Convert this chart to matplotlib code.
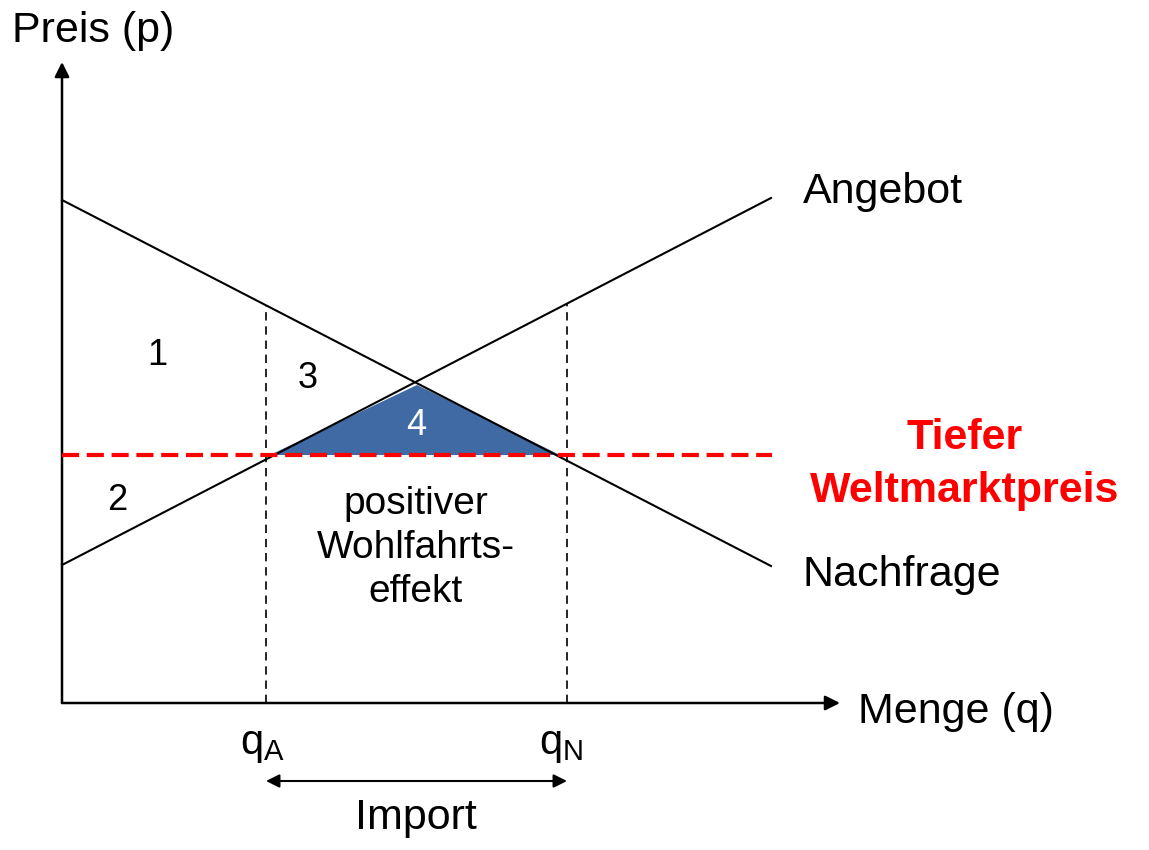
import matplotlib.pyplot as plt
from matplotlib.patches import Polygon

plt.rcParams['font.family'] = ['Liberation Sans', 'DejaVu Sans']

# curve end points (q, p)
demand_q = [0, 709]
demand_p = [503, 137]
supply_q = [0, 709]
supply_p = [138, 505]
world_price = 248
world_q = [0, 710]

q_a = 204
q_n = 505
q_a_top = 398
q_n_top = 400

# area 4 (gain from trade)
gain_q = [208, 355, 498]
gain_p = [248, 318, 248]

axis_q_end = 778
axis_p_end = 641

fig = plt.figure(figsize=(11.49, 8.5), dpi=100)
ax = fig.add_axes([0, 0, 1, 1])
ax.set_xlim(-62, 1149 - 62)
ax.set_ylim(703 - 850, 703)
ax.axis('off')

# axes with arrows
ax.annotate('', xy=(axis_q_end, 0), xytext=(0, 0),
            arrowprops=dict(arrowstyle='-|>', color='black', lw=1.8,
                            mutation_scale=22, shrinkA=0, shrinkB=0))
ax.annotate('', xy=(0, axis_p_end), xytext=(0, 0),
            arrowprops=dict(arrowstyle='-|>', color='black', lw=1.8,
                            mutation_scale=22, shrinkA=0, shrinkB=0))

ax.add_patch(Polygon(list(zip(gain_q, gain_p)), closed=True,
                     facecolor='#3f6aa3', edgecolor='none', zorder=2))

ax.plot(demand_q, demand_p, color='black', lw=1.5, zorder=3)
ax.plot(supply_q, supply_p, color='black', lw=1.5, zorder=3)

ax.plot([q_a, q_a], [0, q_a_top], color='black', lw=1.2,
        dashes=(5, 3.5), zorder=3)
ax.plot([q_n, q_n], [0, q_n_top], color='black', lw=1.2,
        dashes=(5, 3.5), zorder=3)

ax.plot(world_q, [world_price, world_price], color='#ff0000', lw=3,
        dashes=(4.1, 1.85), zorder=4)

# import arrow
ax.annotate('', xy=(q_a, -78), xytext=(q_n, -78),
            arrowprops=dict(arrowstyle='<|-|>', color='black', lw=1.5,
                            mutation_scale=20, shrinkA=0, shrinkB=0))

ax.text(-50, 672, 'Preis (p)', fontsize=31, ha='left', va='center')
ax.text(796, -9, 'Menge (q)', fontsize=31, ha='left', va='center')
ax.text(741, 511, 'Angebot', fontsize=31, ha='left', va='center')
ax.text(741, 128, 'Nachfrage', fontsize=31, ha='left', va='center')
ax.text(903, 265, 'Tiefer', fontsize=31, fontweight='bold',
        color='#ff0000', ha='center', va='center')
ax.text(903, 212, 'Weltmarktpreis', fontsize=31, fontweight='bold',
        color='#ff0000', ha='center', va='center')
ax.text(q_a - 4, -42, r'q$_\mathregular{A}$', fontsize=30,
        ha='center', va='center')
ax.text(q_n - 6, -42, r'q$_\mathregular{N}$', fontsize=30,
        ha='center', va='center')
ax.text(354, -115, 'Import', fontsize=31, ha='center', va='center')

ax.text(95, 348, '1', fontsize=26, ha='center', va='center')
ax.text(55, 203, '2', fontsize=26, ha='center', va='center')
ax.text(246, 325, '3', fontsize=26, ha='center', va='center')
ax.text(354, 278, '4', fontsize=26, color='white', ha='center', va='center')
ax.text(354, 155, 'positiver\nWohlfahrts-\neffekt', fontsize=28,
        ha='center', va='center', linespacing=1.28)

fig.savefig('out.png', dpi=100)
